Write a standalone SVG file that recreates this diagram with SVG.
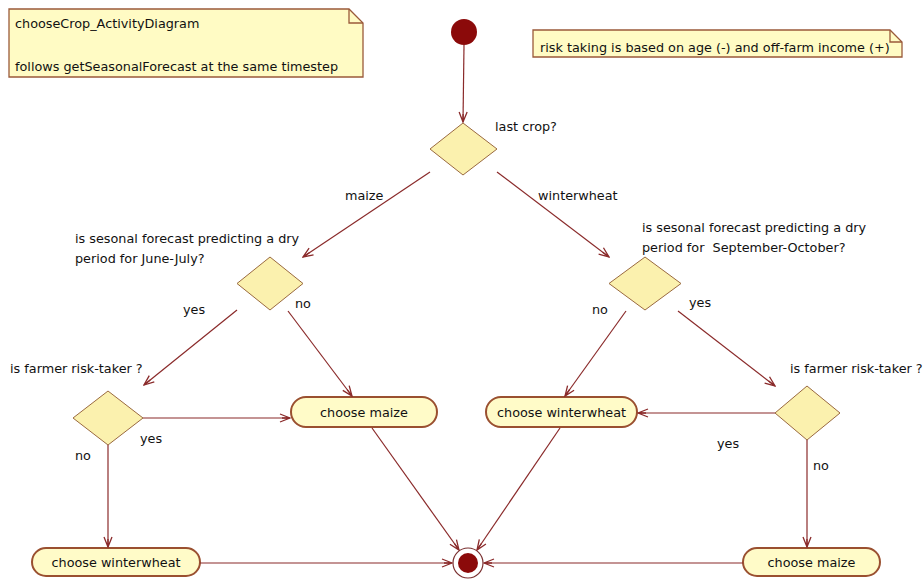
<svg xmlns="http://www.w3.org/2000/svg" width="924" height="579" viewBox="0 0 924 579">
<defs>
<style>
text{font-family:"DejaVu Sans","Liberation Sans",sans-serif;font-size:12.8px;fill:#111}
.note{fill:#FFFBC4;stroke:#9A5A3A;stroke-width:1.3}
.fold{fill:none;stroke:#9A5A3A;stroke-width:1.3}
.dec{fill:#FBF1AE;stroke:#9A6A40;stroke-width:1}
.act{fill:#FFFBC8;stroke:#9A5030;stroke-width:2}
.edge{fill:none;stroke:#8A2A2A;stroke-width:1.2;marker-end:url(#arr)}
</style>
<marker id="arr" viewBox="0 0 12 10" refX="11" refY="5" markerWidth="12" markerHeight="10" markerUnits="userSpaceOnUse" orient="auto">
<path d="M1,1 L11,5 L1,9 M3,5 L11,5" fill="none" stroke="#8A2A2A" stroke-width="1.3"/>
</marker>
</defs>
<rect width="924" height="579" fill="#fff"/>

<g id="note1">
<path class="note" d="M9,9 H349 L363,23 V77 H9 Z"/>
<path class="fold" d="M349,9 V23 H363"/>
<text x="15" y="28">chooseCrop_ActivityDiagram</text>
<text x="15" y="71">follows getSeasonalForecast at the same timestep</text>
</g>

<g id="note2">
<path class="note" d="M533,30 H890 L902,42 V57 H533 Z"/>
<path class="fold" d="M890,30 V42 H902"/>
<text x="540" y="52">risk taking is based on age (-) and off-farm income (+)</text>
</g>

<g id="start"><circle cx="464" cy="32" r="13" fill="#8B0A0A"/></g>

<g id="d_lastcrop">
<polygon class="dec" points="463,123 497,149 463,175 430,149"/>
<text x="495" y="131">last crop?</text>
</g>

<g id="d_junejuly">
<polygon class="dec" points="270,257 303,283.5 270,310 237,283.5"/>
<text x="75" y="243">is sesonal forecast predicting a dry</text>
<text x="75" y="263">period for June-July?</text>
</g>

<g id="d_septoct">
<polygon class="dec" points="645,257 681,283.5 645,310 609,283.5"/>
<text x="642" y="232">is sesonal forecast predicting a dry</text>
<text x="642" y="252" xml:space="preserve">period for  September-October?</text>
</g>

<g id="d_risk_left">
<polygon class="dec" points="108,391 143,418 108,445 73,418"/>
<text x="10" y="373">is farmer risk-taker ?</text>
</g>

<g id="d_risk_right">
<polygon class="dec" points="807,386 840,413 807,440 775,413"/>
<text x="790" y="373">is farmer risk-taker ?</text>
</g>

<g id="a_maize_mid">
<rect class="act" x="291" y="397" width="146" height="30" rx="15"/>
<text x="364" y="417" text-anchor="middle">choose maize</text>
</g>

<g id="a_ww_mid">
<rect class="act" x="486" y="397" width="151" height="30" rx="15"/>
<text x="561.5" y="417" text-anchor="middle">choose winterwheat</text>
</g>

<g id="a_ww_bottom">
<rect class="act" x="32" y="548" width="168" height="28" rx="14"/>
<text x="116" y="567" text-anchor="middle">choose winterwheat</text>
</g>

<g id="a_maize_bottom">
<rect class="act" x="743" y="548" width="137" height="28" rx="14"/>
<text x="811.5" y="567" text-anchor="middle">choose maize</text>
</g>

<g id="end">
<circle cx="468" cy="563" r="15" fill="#fff" stroke="#7A3030" stroke-width="1.2"/>
<circle cx="468" cy="563" r="10" fill="#8B0A0A"/>
</g>

<g id="connectors">
<line class="edge" x1="464" y1="45" x2="463" y2="122"/>
<line class="edge" x1="430" y1="172" x2="303" y2="257"/>
<line class="edge" x1="497" y1="172" x2="609" y2="257"/>
<line class="edge" x1="237" y1="310" x2="144" y2="385"/>
<line class="edge" x1="288" y1="311" x2="352" y2="396"/>
<line class="edge" x1="143" y1="418" x2="290" y2="418"/>
<line class="edge" x1="108" y1="445" x2="108" y2="547"/>
<line class="edge" x1="626" y1="311" x2="565" y2="396"/>
<line class="edge" x1="678" y1="311" x2="775" y2="386"/>
<line class="edge" x1="775" y1="413" x2="638" y2="413"/>
<line class="edge" x1="807" y1="440" x2="807" y2="547"/>
<line class="edge" x1="372" y1="428" x2="459" y2="550"/>
<line class="edge" x1="560" y1="428" x2="477" y2="550"/>
<line class="edge" x1="200" y1="563" x2="452" y2="563"/>
<line class="edge" x1="743" y1="563" x2="484" y2="563"/>
<text x="345" y="200">maize</text>
<text x="538" y="200">winterwheat</text>
<text x="183" y="314">yes</text>
<text x="295" y="308">no</text>
<text x="592" y="314">no</text>
<text x="689" y="307">yes</text>
<text x="140" y="443">yes</text>
<text x="75" y="460">no</text>
<text x="717" y="448">yes</text>
<text x="813" y="470">no</text>
</g>
</svg>
